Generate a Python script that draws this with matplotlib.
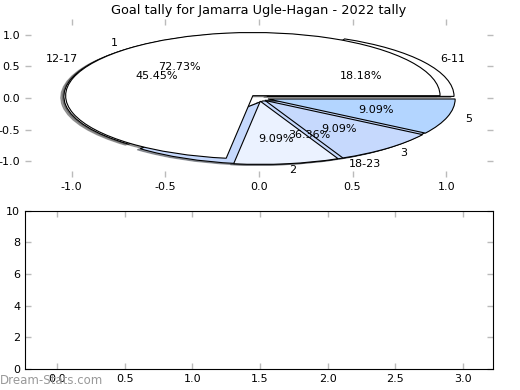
import numpy as np
import matplotlib
matplotlib.use("Agg")
import matplotlib.pyplot as plt

title = "Goal tally for Jamarra Ugle-Hagan - 2022 tally"

# goals per game
goal_labels = ["1", "2", "3", "5"]
goal_counts = [8, 1, 1, 1]
goal_colors = ["#ffffff", "#ebf2ff", "#c6d9fd", "#b3d5ff"]

# goals by round range
round_labels = ["6-11", "12-17", "18-23"]
round_counts = [2, 5, 4]
round_colors = ["#ffffff", "#ffffff", "#c6d9fd"]

pie_ticks = [-1.0, -0.5, 0.0, 0.5, 1.0]
bottom_xticks = [0.0, 0.5, 1.0, 1.5, 2.0, 2.5, 3.0]
bottom_yticks = [0, 2, 4, 6, 8, 10]

plt.rcParams['font.size'] = 8
plt.rcParams['axes.unicode_minus'] = False
plt.rcParams['xtick.direction'] = 'in'
plt.rcParams['ytick.direction'] = 'in'
plt.rcParams['xtick.top'] = True
plt.rcParams['ytick.right'] = True

fig = plt.figure(figsize=(5.2, 3.9), dpi=100)
ax1 = fig.add_axes([0.048, 0.546, 0.9, 0.405])
ax2 = fig.add_axes([0.048, 0.054, 0.9, 0.406])

shadow = {'ox': -0.012, 'oy': -0.012}
ax1.pie(round_counts, labels=round_labels, colors=round_colors,
        explode=[0.05] * len(round_counts), autopct='%1.2f%%',
        shadow=shadow, wedgeprops={'linewidth': 0.8, 'edgecolor': 'black'},
        textprops={'fontsize': 8})
ax1.pie(goal_counts, labels=goal_labels, colors=goal_colors,
        explode=[0.05] * len(goal_counts), autopct='%1.2f%%',
        shadow=shadow, wedgeprops={'linewidth': 0.8, 'edgecolor': 'black'},
        textprops={'fontsize': 8})
ax1.set_aspect('auto')
ax1.set_frame_on(False)
ax1.set_xlim(-1.25, 1.25)
ax1.set_ylim(-1.25, 1.25)
ax1.set_xticks(pie_ticks)
ax1.set_yticks(pie_ticks)
ax1.set_title(title, fontsize=9.3, pad=4)

ax2.set_xlim(-0.236, 3.22)
ax2.set_ylim(0, 10)
ax2.set_xticks(bottom_xticks)
ax2.set_yticks(bottom_yticks)

for ax in (ax1, ax2):
    ax.tick_params(length=4, width=1, color='#bbbbbb', labelsize=8)

fig.text(0.0, 0.025, "Dream-Stats.com", fontsize=8.5, color='#999999',
         va='center', ha='left')

plt.savefig("out.png", dpi=100)
